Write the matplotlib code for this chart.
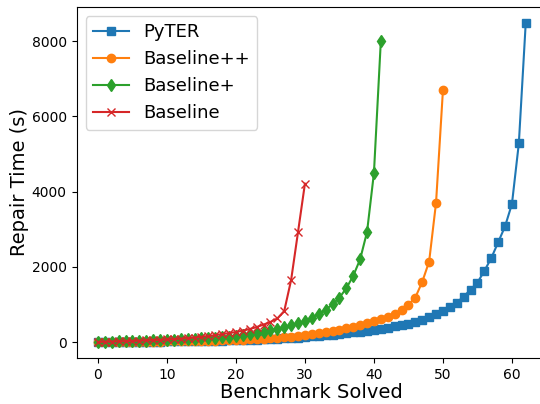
import matplotlib
matplotlib.use("Agg")
import matplotlib.pyplot as plt

# repair time (s) per number of solved benchmarks
pyter = [2, 3, 4, 5, 6, 8, 9, 11, 13, 15, 17, 19, 21, 24, 27, 30, 33, 37, 41, 45,
         50, 55, 61, 67, 74, 81, 89, 98, 107, 117, 140, 155, 170, 185, 200, 218,
         237, 257, 278, 300, 325, 352, 382, 415, 450, 490, 535, 590, 655, 740,
         830, 930, 1050, 1210, 1390, 1580, 1890, 2230, 2650, 3075, 3670, 5280, 8480]
baseline_pp = [2, 3, 4, 5, 7, 8, 10, 12, 14, 16, 18, 21, 24, 27, 30, 34, 38, 42,
               47, 52, 58, 64, 71, 79, 88, 98, 110, 124, 140, 158, 179, 206, 232,
               259, 294, 331, 366, 411, 454, 500, 553, 614, 678, 748, 846, 998,
               1185, 1600, 2140, 3700, 6690]
baseline_p = [5, 10, 15, 20, 25, 30, 35, 40, 45, 52, 60, 66, 73, 80, 88, 96, 105,
              115, 126, 140, 160, 187, 214, 240, 277, 312, 357, 400, 446, 495, 565,
              650, 745, 860, 1005, 1180, 1430, 1760, 2200, 2925, 4490, 8000]
baseline = [5, 10, 15, 20, 26, 32, 38, 45, 52, 60, 70, 80, 92, 105, 120, 140, 160,
            185, 214, 240, 268, 304, 347, 400, 465, 535, 628, 825, 1650, 2925, 4210]

series = [
    ("PyTER", pyter, "s"),
    ("Baseline++", baseline_pp, "o"),
    ("Baseline+", baseline_p, "d"),
    ("Baseline", baseline, "x"),
]

fig = plt.figure(figsize=(5.4, 4.04), dpi=100)
# right spine sits just past the canvas edge, as in the reference crop
ax = fig.add_axes([0.1417, 0.1139, 0.8715, 0.8688])

for name, vals, mk in series:
    ax.plot(range(len(vals)), vals, marker=mk, label=name)

ax.set_xticks([0, 10, 20, 30, 40, 50, 60])
ax.set_yticks([0, 2000, 4000, 6000, 8000])
ax.set_xlabel("Benchmark Solved", fontsize=14, labelpad=1)
ax.set_ylabel("Repair Time (s)", fontsize=14, labelpad=2)
ax.legend(loc="upper left", fontsize=13)

fig.savefig("out.png", dpi=100)
